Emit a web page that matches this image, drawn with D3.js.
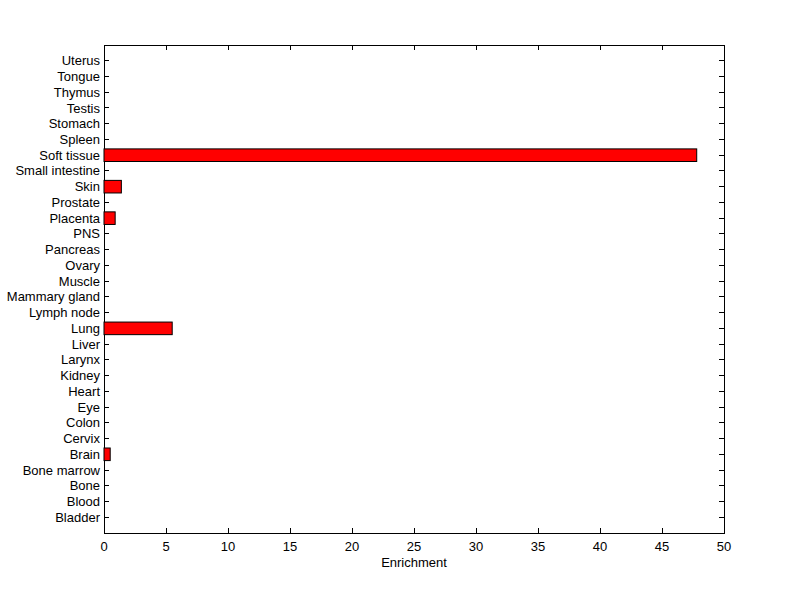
<!DOCTYPE html>
<meta charset='utf-8'>
<head>
  <style>
    body { margin: 0; background: #fff; }
    text { font: 13px 'Liberation Sans', Arial, sans-serif; fill: #000; }
  </style>
</head>
<body>
<script src='https://d3js.org/d3.v7.min.js'></script>
<script>

// categories listed bottom to top, as in the chart
var tissues = ['Bladder', 'Blood', 'Bone', 'Bone marrow', 'Brain', 'Cervix', 'Colon', 'Eye',
  'Heart', 'Kidney', 'Larynx', 'Liver', 'Lung', 'Lymph node', 'Mammary gland', 'Muscle',
  'Ovary', 'Pancreas', 'PNS', 'Placenta', 'Prostate', 'Skin', 'Small intestine',
  'Soft tissue', 'Spleen', 'Stomach', 'Testis', 'Thymus', 'Tongue', 'Uterus'];
var enrichment = [0, 0, 0, 0, 0.5, 0, 0, 0,
  0, 0, 0, 0, 5.5, 0, 0, 0,
  0, 0, 0, 0.9, 0, 1.4, 0,
  47.8, 0, 0, 0, 0, 0, 0];
var xTicks = [0, 5, 10, 15, 20, 25, 30, 35, 40, 45, 50];

var box = {left: 104, right: 724, top: 45, bottom: 533};

var x = d3.scaleLinear().domain([0, 50]).range([box.left, box.right]);
var y = d3.scaleLinear().domain([0, tissues.length + 1]).range([box.bottom, box.top]);
var barH = 0.8 * (y(0) - y(1));

var svg = d3.select('body').append('svg')
    .attr('width', 800)
    .attr('height', 599);

var data = tissues.map((t, i) => ({name: t, pos: i + 1, value: enrichment[i]}));

var tickLen = 5;
var g = svg.append('g').attr('shape-rendering', 'crispEdges');

// box
g.append('rect')
    .attr('x', box.left).attr('y', box.top)
    .attr('width', box.right - box.left).attr('height', box.bottom - box.top)
    .style('fill', 'none').style('stroke', '#000');

// x ticks, bottom and top, pointing inward
xTicks.forEach(v => {
  g.append('line').attr('x1', x(v)).attr('x2', x(v))
    .attr('y1', box.bottom).attr('y2', box.bottom - tickLen).style('stroke', '#000');
  g.append('line').attr('x1', x(v)).attr('x2', x(v))
    .attr('y1', box.top).attr('y2', box.top + tickLen).style('stroke', '#000');
});
svg.selectAll('.xlab')
    .data(xTicks)
  .enter().append('text')
    .attr('x', d => x(d))
    .attr('y', box.bottom + 18)
    .style('text-anchor', 'middle')
    .text(d => d);

// y ticks, left and right, pointing inward
data.forEach(d => {
  g.append('line').attr('x1', box.left).attr('x2', box.left + tickLen)
    .attr('y1', y(d.pos)).attr('y2', y(d.pos)).style('stroke', '#000');
  g.append('line').attr('x1', box.right).attr('x2', box.right - tickLen)
    .attr('y1', y(d.pos)).attr('y2', y(d.pos)).style('stroke', '#000');
});
svg.selectAll('.ylab')
    .data(data)
  .enter().append('text')
    .attr('x', box.left - 4)
    .attr('y', d => y(d.pos))
    .attr('dy', '0.35em')
    .style('text-anchor', 'end')
    .text(d => d.name);

svg.append('text')
    .attr('x', (box.left + box.right) / 2)
    .attr('y', box.bottom + 34)
    .style('text-anchor', 'middle')
    .text('Enrichment');

// bars on top of the ticks
svg.selectAll('.bar')
    .data(data.filter(d => d.value > 0))
  .enter().append('rect')
    .attr('class', 'bar')
    .attr('x', x(0))
    .attr('y', d => y(d.pos) - barH / 2)
    .attr('width', d => x(d.value) - x(0))
    .attr('height', barH)
    .style('fill', '#ff0000')
    .style('stroke', '#000')
    .style('stroke-width', 1);

</script>
</body>
